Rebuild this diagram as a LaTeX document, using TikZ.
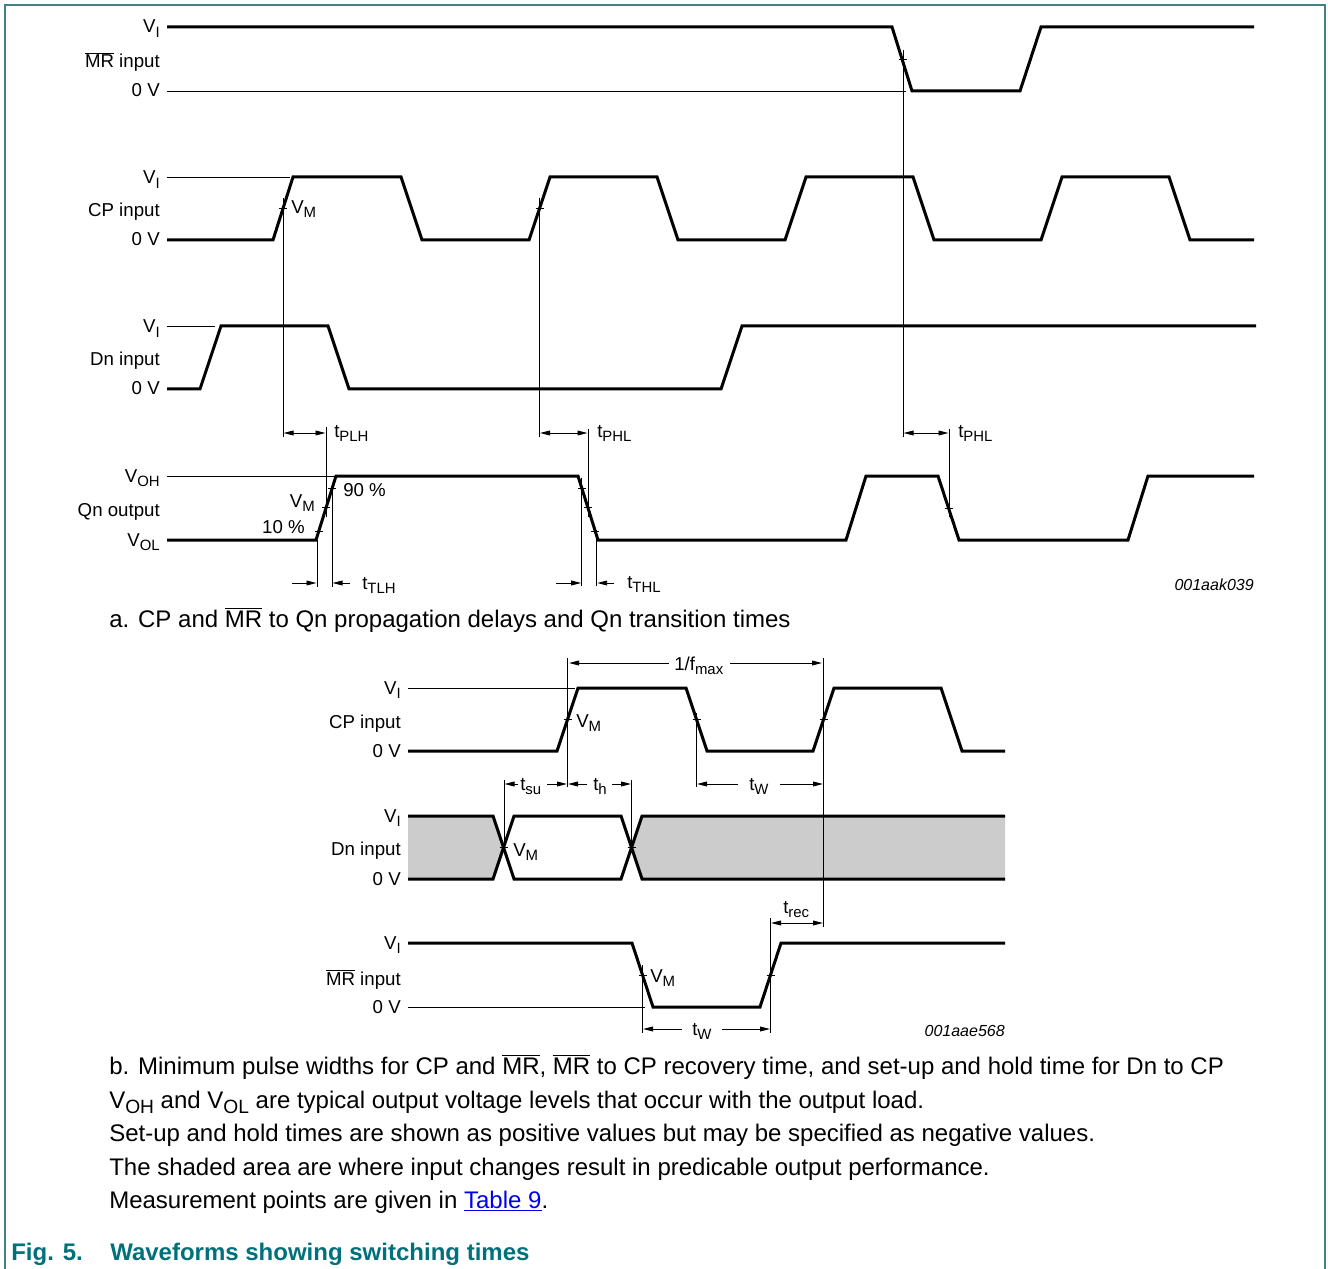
\documentclass[tikz,border=0pt]{standalone}
\usepackage{fontspec}
\setmainfont{Liberation Sans}
\usetikzlibrary{arrows.meta}
\definecolor{teal1}{RGB}{0,112,122}
\definecolor{frame1}{RGB}{64,130,136}
\definecolor{shade1}{RGB}{204,204,204}
\definecolor{linkblue}{RGB}{0,0,238}
\newcommand\sbx[1]{\raisebox{-0.22em}{\scalebox{0.8}{#1}}}
\newcommand\mrbar{$\overline{\mbox{MR}}$}
\newcommand\tk[2]{\draw[thin] (#1,#2) ++(-4,0) -- ++(8,0);}
\begin{document}
\begin{tikzpicture}[x=0.75pt,y=-0.75pt,
  wave/.style={line width=2.25pt, line join=miter, line cap=butt},
  thin/.style={line width=0.7pt},
  dim/.style={thin, -{Triangle[length=7.5pt,width=3.6pt]}},
  dimb/.style={thin, {Triangle[length=7.5pt,width=3.6pt]}-{Triangle[length=7.5pt,width=3.6pt]}},
  lbl/.style={anchor=base east, inner sep=0pt, font=\fontsize{14}{16}\selectfont},
  ann/.style={anchor=base west, inner sep=0pt, font=\fontsize{14}{16}\selectfont},
  codelbl/.style={anchor=base east, inner sep=0pt, font=\fontsize{12}{14}\selectfont\itshape},
  captxt/.style={anchor=base west, inner sep=0pt, font=\fontsize{18}{20}\selectfont},
  figcap/.style={anchor=base west, inner sep=0pt, text=teal1, font=\fontsize{18}{20}\selectfont\bfseries},
]
\useasboundingbox (0,0) rectangle (1328,1269);
% frame
\draw[frame1, line width=0.9pt] (5,1269) -- (5,5) -- (1325,5) -- (1325,1269);

% ================= part a =================
% labels
\node[lbl] (aMRvi) at (160,33) {V\sbx{I}};
\node[lbl] (aMRl) at (160,68) {\mrbar{} input};
\node[lbl] (aMR0) at (160,97) {0 V};
\node[lbl] (aCPvi) at (160,184) {V\sbx{I}};
\node[lbl] (aCPl) at (160,217) {CP input};
\node[lbl] (aCP0) at (160,246) {0 V};
\node[lbl] (aDnvi) at (160,333) {V\sbx{I}};
\node[lbl] (aDnl) at (160,366) {Dn input};
\node[lbl] (aDn0) at (160,395) {0 V};
\node[lbl] (aQvoh) at (160,482) {V\sbx{OH}};
\node[lbl] (aQl) at (160,516) {Qn output};
\node[lbl] (aQvol) at (160,546) {V\sbx{OL}};

% MR input
\draw[thin] (167,91) -- (906,91);
\draw[wave] (167,27) -- (892,27) -- (912,91) -- (1020,91) -- (1041,27) -- (1254,27);
\draw[thin] (903,50) -- (903,437);
\tk{903}{59}

% CP input
\draw[thin] (167,177) -- (290,177);
\draw[wave] (167,240) -- (273,240) -- (293,177) -- (401,177) -- (422,240) -- (529,240) -- (550,177) -- (657,177) -- (678,240) -- (785,240) -- (806,177) -- (913,177) -- (934,240) -- (1041,240) -- (1062,177) -- (1169,177) -- (1190,240) -- (1254,240);
\draw[thin] (283,198) -- (283,437);
\tk{283}{208}
\node[ann] (aVM1) at (291,213.5) {V\sbx{M}};
\draw[thin] (539.5,198) -- (539.5,437);
\tk{539.5}{208}

% Dn input
\draw[thin] (167,326) -- (215,326);
\draw[wave] (167,389) -- (200,389) -- (221,326) -- (328,326) -- (349,389) -- (721,389) -- (742,326) -- (1256,326);

% propagation delays
\draw[dimb] (283.5,433) -- (325.5,433);
\draw[thin] (326,427) -- (326,517);
\node[ann] (tplh) at (334,437) {t\sbx{PLH}};
\draw[dimb] (540,433) -- (587.5,433);
\draw[thin] (588,429) -- (588,517);
\node[ann] (tphl1) at (597,437) {t\sbx{PHL}};
\draw[dimb] (903.5,433) -- (948.5,433);
\draw[thin] (949,429) -- (949,517);
\node[ann] (tphl2) at (958,437) {t\sbx{PHL}};

% Qn output
\draw[thin] (167,476) -- (335,476);
\draw[wave] (167,540) -- (316,540) -- (336,476) -- (578,476) -- (598,540) -- (846,540) -- (866,476) -- (938,476) -- (959,540) -- (1128,540) -- (1148,476) -- (1254,476);
\tk{332}{488}
\tk{326}{507}
\tk{319}{531}
\node[ann] (p90) at (343,496.5) {90 \%};
\node[lbl] (aVM2) at (315,507) {V\sbx{M}};
\node[lbl] (p10) at (305,533) {10 \%};
\draw[thin] (317,540) -- (317,587);
\draw[thin] (332,487) -- (332,587);
\draw[dim] (292,583) -- (316.5,583);
\draw[dim] (350,583) -- (332.5,583);
\node[ann] (ttlh) at (362,589) {t\sbx{TLH}};
\tk{582}{488}
\tk{588}{507}
\tk{595}{531}
\draw[thin] (581.7,478) -- (581.7,586);
\draw[thin] (596.7,530) -- (596.7,586);
\draw[dim] (556,583) -- (581.2,583);
\draw[dim] (614,583) -- (597.2,583);
\node[ann] (tthl) at (627,588) {t\sbx{THL}};
\tk{949}{508}
\node[codelbl] (codea) at (1254,590) {001aak039};

\node[captxt] (capa) at (109,627) {a. CP and \mrbar{} to Qn propagation delays and Qn transition times};

% ================= part b =================
\node[lbl] (bCPvi) at (401,694) {V\sbx{I}};
\node[lbl] (bCPl) at (401,728) {CP input};
\node[lbl] (bCP0) at (401,757) {0 V};
\node[lbl] (bDnvi) at (401,822) {V\sbx{I}};
\node[lbl] (bDnl) at (401,855) {Dn input};
\node[lbl] (bDn0) at (401,885) {0 V};
\node[lbl] (bMRvi) at (401,949) {V\sbx{I}};
\node[lbl] (bMRl) at (401,985) {\mrbar{} input};
\node[lbl] (bMR0) at (401,1013) {0 V};

% Dn shaded
\fill[shade1] (408,816) -- (493,816) -- (503.5,847.5) -- (493,879) -- (408,879) -- cycle;
\fill[shade1] (631.5,847.5) -- (642,816) -- (1005,816) -- (1005,879) -- (642,879) -- cycle;

% CP input b
\draw[thin] (408,688) -- (575,688);
\draw[wave] (408,751) -- (557,751) -- (578,688) -- (686,688) -- (707,751) -- (813,751) -- (834,688) -- (941,688) -- (962,751) -- (1005,751);
\draw[thin] (567.5,658) -- (567.5,787);
\tk{567.5}{719.5}
\node[ann] (bVM1) at (576,727) {V\sbx{M}};
\draw[thin] (696.5,713) -- (696.5,787);
\tk{696.5}{719.5}
\draw[thin] (823.5,658) -- (823.5,927);
\tk{823.5}{719.5}
% 1/fmax
\node[ann] (fmax) at (674,670) {1/f\sbx{max}};
\draw[dim] (669,663) -- (569,663);
\draw[dim] (730,663) -- (822,663);
% tsu th tw
\draw[thin] (504,780) -- (504,853);
\draw[thin] (631.5,780) -- (631.5,853);
\node[ann] (tsu) at (520,790) {t\sbx{su}};
\draw[dim] (518,784) -- (504.5,784);
\draw[dim] (547,784) -- (567,784);
\node[ann] (th) at (593,790) {t\sbx{h}};
\draw[dim] (587,784) -- (568,784);
\draw[dim] (612,784) -- (631,784);
\node[ann] (tw1) at (749,790) {t\sbx{W}};
\draw[dim] (738,784) -- (697,784);
\draw[dim] (780,784) -- (823,784);

% Dn lines
\draw[wave] (408,816) -- (493,816) -- (514,879) -- (621,879) -- (642,816) -- (1005,816);
\draw[wave] (408,879) -- (493,879) -- (514,816) -- (621,816) -- (642,879) -- (1005,879);
\tk{503.5}{847.5}
\tk{631.5}{847.5}
\node[ann] (bVM2) at (513,856.5) {V\sbx{M}};

% MR input b
\draw[thin] (408,1007) -- (645,1007);
\draw[wave] (408,943) -- (632,943) -- (653,1007) -- (760,1007) -- (781,943) -- (1005,943);
\draw[thin] (642.5,965) -- (642.5,1033);
\draw[thin] (770.5,918) -- (770.5,1033);
\tk{642.5}{975}
\tk{770.5}{975}
\node[ann] (bVM3) at (650,982) {V\sbx{M}};
\draw[dimb] (771,923) -- (823,923);
\node[ann] (trec) at (783,913) {t\sbx{rec}};
\node[ann] (tw2) at (692,1035) {t\sbx{W}};
\draw[dim] (682,1029) -- (643,1029);
\draw[dim] (722,1029) -- (770,1029);
\node[codelbl] (codeb) at (1005,1036) {001aae568};

% captions
\node[captxt] (capb1) at (109,1074) {b. Minimum pulse widths for CP and \mrbar, \mrbar{} to CP recovery time, and set-up and hold time for Dn to CP};
\node[captxt] (capb2) at (109,1108) {V\sbx{OH} and V\sbx{OL} are typical output voltage levels that occur with the output load.};
\node[captxt] (capb3) at (109,1141.5) {Set-up and hold times are shown as positive values but may be specified as negative values.};
\node[captxt] (capb4) at (109,1175) {The shaded area are where input changes result in predicable output performance.};
\node[captxt] (capb5) at (109,1208.5) {Measurement points are given in {\color{linkblue}\underline{Table 9}}.};
\node[figcap] (fig) at (11,1260) {Fig. 5.};
\node[figcap] (figt) at (110,1260) {Waveforms showing switching times};
\end{tikzpicture}
\end{document}
